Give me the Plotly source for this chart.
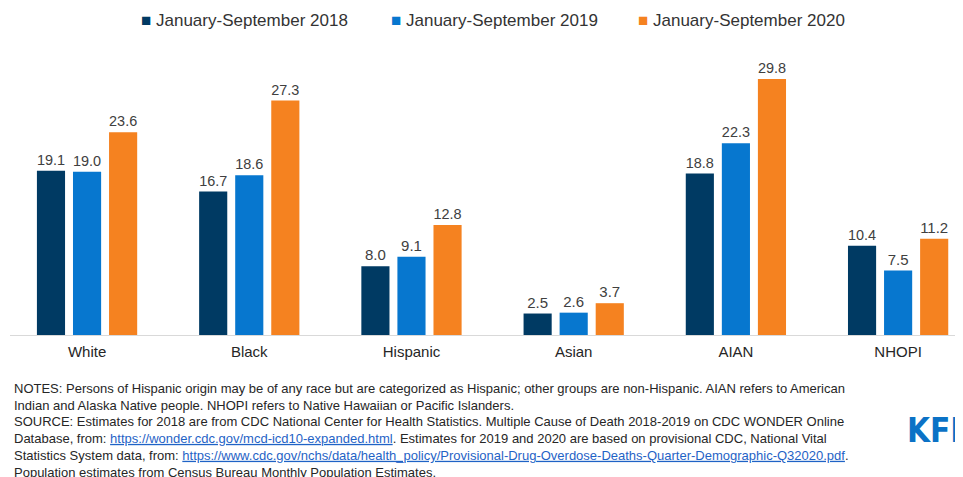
import plotly.graph_objects as go

categories = ["White", "Black", "Hispanic", "Asian", "AIAN", "NHOPI"]
series_names = ["January-September 2018", "January-September 2019", "January-September 2020"]
values_2018 = [19.1, 16.7, 8.0, 2.5, 18.8, 10.4]
values_2019 = [19.0, 18.6, 9.1, 2.6, 22.3, 7.5]
values_2020 = [23.6, 27.3, 12.8, 3.7, 29.8, 11.2]
colors = ["#003A63", "#0777CF", "#F58220"]

notes_text = ("NOTES: Persons of Hispanic origin may be of any race but are categorized as Hispanic; other groups are non-Hispanic. AIAN refers to American<br>"
              "Indian and Alaska Native people. NHOPI refers to Native Hawaiian or Pacific Islanders.")
link1 = "https://wonder.cdc.gov/mcd-icd10-expanded.html"
link2 = "https://www.cdc.gov/nchs/data/health_policy/Provisional-Drug-Overdose-Deaths-Quarter-Demographic-Q32020.pdf"
link_color = "#1F63C6"
source_text = ("SOURCE: Estimates for 2018 are from CDC National Center for Health Statistics. Multiple Cause of Death 2018-2019 on CDC WONDER Online<br>"
               f"Database, from: <span style='color:{link_color}'><u>{link1}</u></span>. Estimates for 2019 and 2020 are based on provisional CDC, National Vital<br>"
               f"Statistics System data, from: <span style='color:{link_color}'><u>{link2}</u></span>.<br>"
               "Population estimates from Census Bureau Monthly Population Estimates.")

W, H = 955, 469
ML, MR, MT, MB = 2, 0, 52, 142
PW = W - ML - MR

fig = go.Figure()
for name, vals, col in zip(series_names, [values_2018, values_2019, values_2020], colors):
    fig.add_trace(go.Bar(
        x=categories, y=vals, name=name, marker=dict(color=col, line=dict(width=0)),
        text=[f"{v:.1f}" for v in vals], textposition="outside",
        textfont=dict(size=15, color="#404040", family="Liberation Sans, Arial, sans-serif"),
        cliponaxis=False, showlegend=False,
    ))

annotations = []
legend_px = [131, 381, 628]
for name, col, px in zip(series_names, colors, legend_px):
    annotations.append(dict(
        text=f"<span style='color:{col}'>■</span> {name}",
        xref="paper", yref="paper", x=(px - ML) / PW, y=1, yshift=40,
        xanchor="left", yanchor="middle", showarrow=False,
        font=dict(size=17, color="#333333", family="Liberation Sans, Arial, sans-serif"),
    ))
annotations.append(dict(
    text=notes_text, xref="paper", yref="paper", x=0, xshift=2, y=0, yshift=-44,
    xanchor="left", yanchor="top", align="left", showarrow=False,
    font=dict(size=13, color="#262626", family="Liberation Sans, Arial, sans-serif"),
))
annotations.append(dict(
    text=source_text, xref="paper", yref="paper", x=0, xshift=2, y=0, yshift=-77,
    xanchor="left", yanchor="top", align="left", showarrow=False,
    font=dict(size=13, color="#262626", family="Liberation Sans, Arial, sans-serif"),
))
annotations.append(dict(
    text="<b>KFF</b>", xref="paper", yref="paper", x=(897 - ML) / PW, y=0, yshift=-95,
    xanchor="left", yanchor="middle", showarrow=False,
    font=dict(size=33, color="#0B72C6", family="DejaVu Sans Condensed, Liberation Sans Narrow, Arial, sans-serif"),
))

fig.update_layout(
    width=W, height=H,
    margin=dict(l=ML, r=MR, t=MT, b=MB),
    barmode="group", bargap=0.333, bargroupgap=0.22,
    plot_bgcolor="white", paper_bgcolor="white",
    annotations=annotations,
    font=dict(family="Liberation Sans, Arial, sans-serif"),
)
fig.update_xaxes(range=[-0.475, 5.4], showline=True, linecolor="#D9D9D9", linewidth=1,
                 showgrid=False, ticks="", ticklabelstandoff=3,
                 tickfont=dict(size=15, color="#262626"))
fig.update_yaxes(range=[0, 32], visible=False, showgrid=False)

fig.write_html("out.html")
